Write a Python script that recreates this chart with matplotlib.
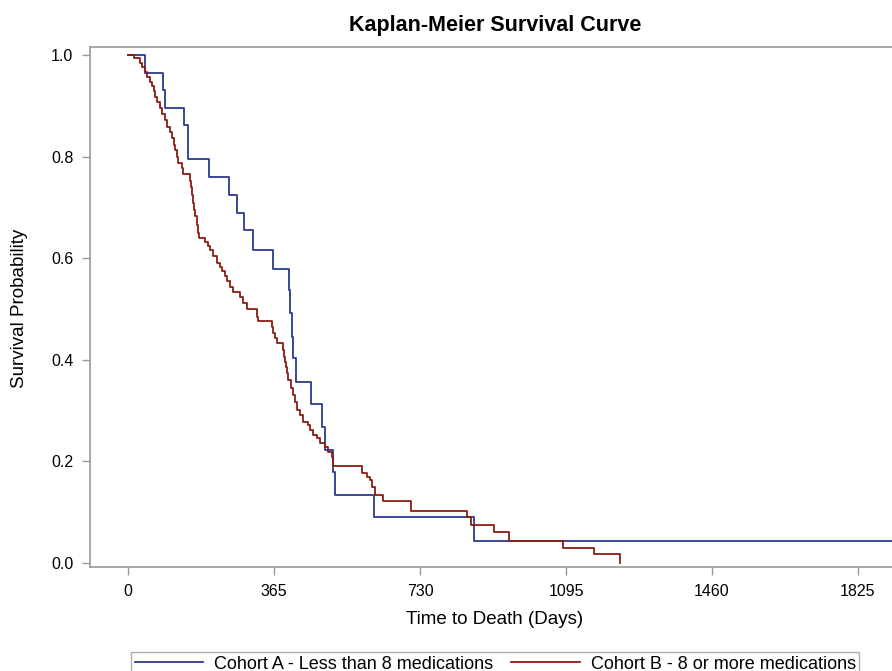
import matplotlib.pyplot as plt
from matplotlib.lines import Line2D

# Kaplan-Meier step data (days, survival after each drop)
days_a = [0, 42, 87, 92, 141, 151, 202, 253, 272, 290, 312, 362, 402, 406, 409,
          413, 419, 457, 486, 492, 513, 517, 616, 866, 1990]
surv_a = [1.0, 0.965, 0.931, 0.896, 0.862, 0.795, 0.760, 0.724, 0.690, 0.656,
          0.616, 0.578, 0.537, 0.492, 0.445, 0.404, 0.357, 0.313, 0.268, 0.222,
          0.180, 0.134, 0.091, 0.044, 0.044]

days_b = [0, 15, 30, 35, 42, 47, 55, 60, 64, 67, 72, 80, 85, 92, 97, 105, 110,
          115, 117, 122, 125, 135, 137, 155, 157, 160, 162, 165, 167, 172, 175,
          177, 192, 200, 205, 212, 222, 230, 235, 242, 247, 255, 262, 280, 287,
          297, 322, 325, 360, 362, 367, 372, 387, 390, 392, 395, 397, 400, 407,
          412, 417, 422, 430, 437, 450, 455, 462, 472, 480, 492, 500, 510, 512,
          584, 597, 605, 610, 617, 638, 707, 847, 857, 916, 953, 1088, 1165, 1230]
surv_b = [1.0, 0.995, 0.984, 0.976, 0.966, 0.957, 0.947, 0.939, 0.929, 0.917,
          0.907, 0.896, 0.884, 0.872, 0.858, 0.848, 0.836, 0.824, 0.813, 0.799,
          0.787, 0.777, 0.765, 0.752, 0.740, 0.724, 0.709, 0.695, 0.683, 0.665,
          0.650, 0.640, 0.632, 0.624, 0.616, 0.604, 0.591, 0.583, 0.575, 0.565,
          0.555, 0.543, 0.533, 0.524, 0.512, 0.500, 0.484, 0.476, 0.465, 0.453,
          0.443, 0.433, 0.419, 0.406, 0.396, 0.386, 0.374, 0.360, 0.344, 0.331,
          0.317, 0.301, 0.291, 0.278, 0.272, 0.262, 0.252, 0.246, 0.236, 0.228,
          0.219, 0.209, 0.191, 0.178, 0.170, 0.163, 0.150, 0.134, 0.121, 0.103,
          0.090, 0.075, 0.060, 0.044, 0.030, 0.017, 0.0]

x_ticks = [0, 365, 730, 1095, 1460, 1825]
y_ticks = [0.0, 0.2, 0.4, 0.6, 0.8, 1.0]
labels = ["Cohort A - Less than 8 medications", "Cohort B - 8 or more medications"]

blue = "#2b3990"
red = "#8c1c13"
grey = "#9a9a9a"

plt.rcParams['font.family'] = ['Liberation Sans', 'DejaVu Sans']

W, H = 892, 671
fig = plt.figure(figsize=(W / 100, H / 100), dpi=100)
# axes deliberately runs past the right edge, as in the reference
ax = fig.add_axes([90 / W, 1 - 567 / H, 842 / W, (567 - 47) / H])

ax.step(days_a, surv_a, where='post', color=blue, lw=1.3)
ax.step(days_b, surv_b, where='post', color=red, lw=1.3)

ax.set_xlim(-95, 2010)
ax.set_ylim(-0.008, 1.016)
ax.set_xticks(x_ticks)
ax.set_yticks(y_ticks)
ax.set_yticklabels([f"{v:.1f}" for v in y_ticks])
ax.tick_params(direction='out', length=6, width=1, color=grey,
               labelsize=11.5, pad=6)
for s in ax.spines.values():
    s.set_color(grey)
    s.set_linewidth(1.2)

fig.text(495 / W, 1 - 25 / H, "Kaplan-Meier Survival Curve", ha='center',
         va='center', fontsize=15.5, fontweight='bold')
fig.text(495 / W, 1 - 620 / H, "Time to Death (Days)", ha='center',
         va='center', fontsize=13.5)
fig.text(20 / W, 1 - 308 / H, "Survival Probability", ha='center',
         va='center', rotation=90, fontsize=13.5)

handles = [Line2D([], [], color=blue, lw=1.3), Line2D([], [], color=red, lw=1.3)]
leg = fig.legend(handles, labels, loc='upper left',
                 bbox_to_anchor=(131 / W, 1 - 652 / H), ncol=2, fontsize=13,
                 frameon=True, fancybox=False, handlelength=3.8,
                 handletextpad=0.6, columnspacing=1.0, borderaxespad=0,
                 borderpad=0.2)
leg.get_frame().set_edgecolor(grey)
leg.get_frame().set_linewidth(1.0)

fig.savefig("out.png", dpi=100)
